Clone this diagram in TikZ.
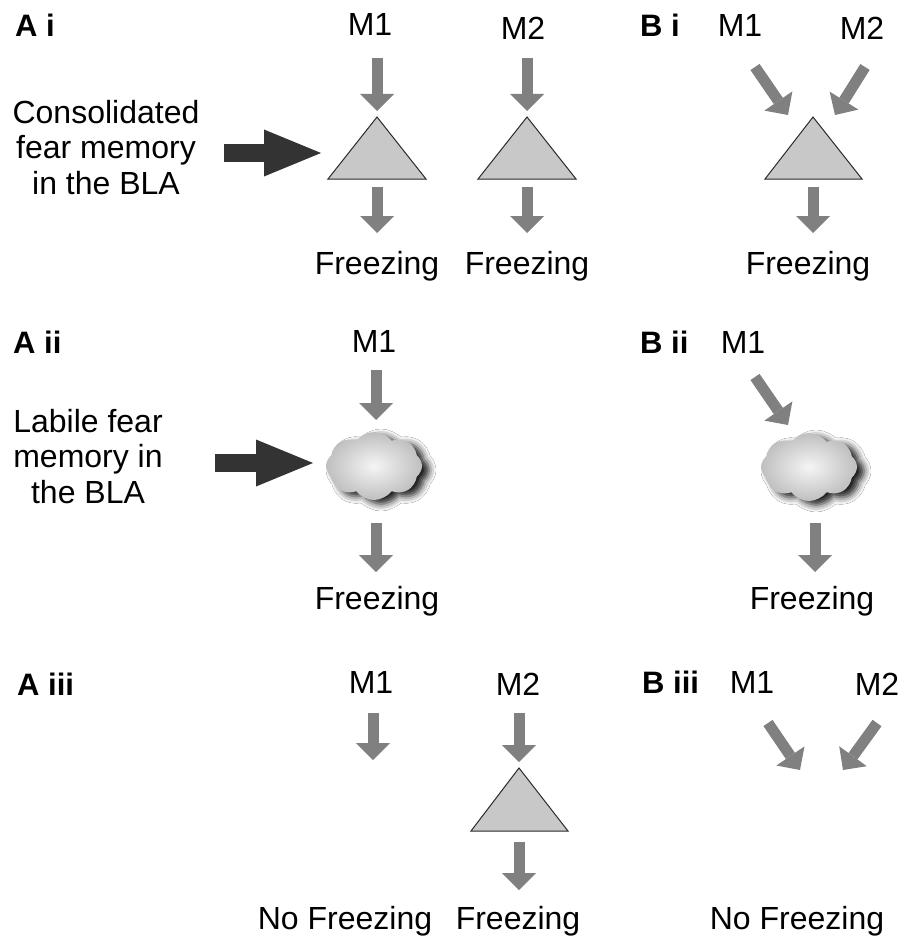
\documentclass[tikz,border=0pt]{standalone}
\usepackage{fontspec}
\setmainfont{Liberation Sans}
\usetikzlibrary{arrows.meta,shapes.symbols,shadows.blur}
\definecolor{arrowgray}{HTML}{808080}
\definecolor{arrowblack}{HTML}{333333}
\definecolor{trifill}{HTML}{C8C8C8}
\definecolor{triline}{HTML}{2A2A2A}
\tikzset{
  txt/.style={font=\fontsize{32}{35.5}\selectfont, inner sep=0pt, anchor=base, text=black},
  paneltag/.style={font=\fontsize{31}{35.5}\selectfont\bfseries, inner sep=0pt, anchor=base west},
  multitxt/.style={txt, align=center},
  garrow/.style={draw=arrowgray, line width=11pt,
     -{Triangle[width=34pt,length=17pt,line width=0pt,fill=arrowgray]}},
  barrow/.style={draw=arrowblack, line width=18pt,
     -{Triangle[width=47pt,length=57pt,line width=0pt,fill=arrowblack]}},
  tri/.style={fill=trifill, draw=triline, line width=1pt, line join=miter},
  memcloud/.style={cloud, cloud puffs=8, cloud puff arc=105, aspect=1.45,
     minimum width=96pt, minimum height=68pt, inner sep=0pt,
     inner color=gray!8, outer color=gray!50, draw=none,
     blur shadow={shadow xshift=7pt, shadow yshift=-4pt, shadow blur radius=7pt, shadow opacity=90}},
}
\begin{document}
\begin{tikzpicture}[x=1pt,y=-1pt]
\useasboundingbox[fill=white] (0,0) rectangle (904,939);

% ---------------- A i ----------------
\node[paneltag] (tagAi) at (15,37) {A i};
\node[txt] (AiM1) at (370,36) {M1};
\node[txt] (AiM2) at (523,40) {M2};
\node[multitxt] (AiCons) at (106,194) {Consolidated\\fear memory\\in the BLA};
\coordinate (AiT1a) at (377,117); \coordinate (AiT1b) at (328,179); \coordinate (AiT1c) at (426,179);
\coordinate (AiT2a) at (527,117); \coordinate (AiT2b) at (478,179); \coordinate (AiT2c) at (576,179);
\draw[tri] (AiT1a) -- (AiT1b) -- (AiT1c) -- cycle;
\draw[tri] (AiT2a) -- (AiT2b) -- (AiT2c) -- cycle;
\coordinate (AiA1s) at (377,58);  \coordinate (AiA1e) at (377,111);
\coordinate (AiA2s) at (527,58);  \coordinate (AiA2e) at (527,111);
\coordinate (AiD1s) at (377,187); \coordinate (AiD1e) at (377,233);
\coordinate (AiD2s) at (527,187); \coordinate (AiD2e) at (527,233);
\draw[garrow] (AiA1s) -- (AiA1e);
\draw[garrow] (AiA2s) -- (AiA2e);
\draw[garrow] (AiD1s) -- (AiD1e);
\draw[garrow] (AiD2s) -- (AiD2e);
\coordinate (AiBs) at (224,153); \coordinate (AiBe) at (321,153);
\draw[barrow] (AiBs) -- (AiBe);
\node[txt] (AiF1) at (377,274) {Freezing};
\node[txt] (AiF2) at (527,274) {Freezing};

% ---------------- B i ----------------
\node[paneltag] (tagBi) at (640,37) {B i};
\node[txt] (BiM1) at (740,37) {M1};
\node[txt] (BiM2) at (862,40) {M2};
\coordinate (BiTa) at (813,117); \coordinate (BiTb) at (765,179); \coordinate (BiTc) at (862,179);
\draw[tri] (BiTa) -- (BiTb) -- (BiTc) -- cycle;
\coordinate (BiA1s) at (755,67); \coordinate (BiA1e) at (788,115);
\coordinate (BiA2s) at (865,67); \coordinate (BiA2e) at (835,115);
\coordinate (BiDs) at (813,187); \coordinate (BiDe) at (813,233);
\draw[garrow] (BiA1s) -- (BiA1e);
\draw[garrow] (BiA2s) -- (BiA2e);
\draw[garrow] (BiDs) -- (BiDe);
\node[txt] (BiF) at (808,274) {Freezing};

% ---------------- A ii ----------------
\node[paneltag] (tagAii) at (13,353) {A ii};
\node[txt] (AiiM1) at (374,352) {M1};
\node[multitxt] (AiiLab) at (88,503) {Labile fear\\memory in\\the BLA};
\node[memcloud] (AiiCloud) at (374,466) {};
\coordinate (AiiAs) at (376,370); \coordinate (AiiAe) at (376,420);
\coordinate (AiiDs) at (376,523); \coordinate (AiiDe) at (376,572);
\draw[garrow] (AiiAs) -- (AiiAe);
\draw[garrow] (AiiDs) -- (AiiDe);
\coordinate (AiiBs) at (215,463); \coordinate (AiiBe) at (313,463);
\draw[barrow] (AiiBs) -- (AiiBe);
\node[txt] (AiiF) at (377,609) {Freezing};

% ---------------- B ii ----------------
\node[paneltag] (tagBii) at (640,353) {B ii};
\node[txt] (BiiM1) at (743,353) {M1};
\node[memcloud] (BiiCloud) at (809,467) {};
\coordinate (BiiAs) at (755,377); \coordinate (BiiAe) at (788,425);
\coordinate (BiiDs) at (815,523); \coordinate (BiiDe) at (815,572);
\draw[garrow] (BiiAs) -- (BiiAe);
\draw[garrow] (BiiDs) -- (BiiDe);
\node[txt] (BiiF) at (812,609) {Freezing};

% ---------------- A iii ----------------
\node[paneltag] (tagAiii) at (17,695) {A iii};
\node[txt] (AiiiM1) at (371,693) {M1};
\node[txt] (AiiiM2) at (518,695) {M2};
\coordinate (AiiiTa) at (519,768); \coordinate (AiiiTb) at (471,831); \coordinate (AiiiTc) at (568,831);
\draw[tri] (AiiiTa) -- (AiiiTb) -- (AiiiTc) -- cycle;
\coordinate (AiiiA1s) at (373,713); \coordinate (AiiiA1e) at (373,760);
\coordinate (AiiiA2s) at (519,713); \coordinate (AiiiA2e) at (519,762);
\coordinate (AiiiDs) at (519,842);  \coordinate (AiiiDe) at (519,890);
\draw[garrow] (AiiiA1s) -- (AiiiA1e);
\draw[garrow] (AiiiA2s) -- (AiiiA2e);
\draw[garrow] (AiiiDs) -- (AiiiDe);
\node[txt] (AiiiNF) at (345,929) {No Freezing};
\node[txt] (AiiiF) at (518,929) {Freezing};

% ---------------- B iii ----------------
\node[paneltag] (tagBiii) at (642,693) {B iii};
\node[txt] (BiiiM1) at (752,693) {M1};
\node[txt] (BiiiM2) at (877,695) {M2};
\coordinate (BiiiA1s) at (768,723); \coordinate (BiiiA1e) at (800,770);
\coordinate (BiiiA2s) at (877,723); \coordinate (BiiiA2e) at (843,770);
\draw[garrow] (BiiiA1s) -- (BiiiA1e);
\draw[garrow] (BiiiA2s) -- (BiiiA2e);
\node[txt] (BiiiNF) at (797,929) {No Freezing};
\end{tikzpicture}
\end{document}
